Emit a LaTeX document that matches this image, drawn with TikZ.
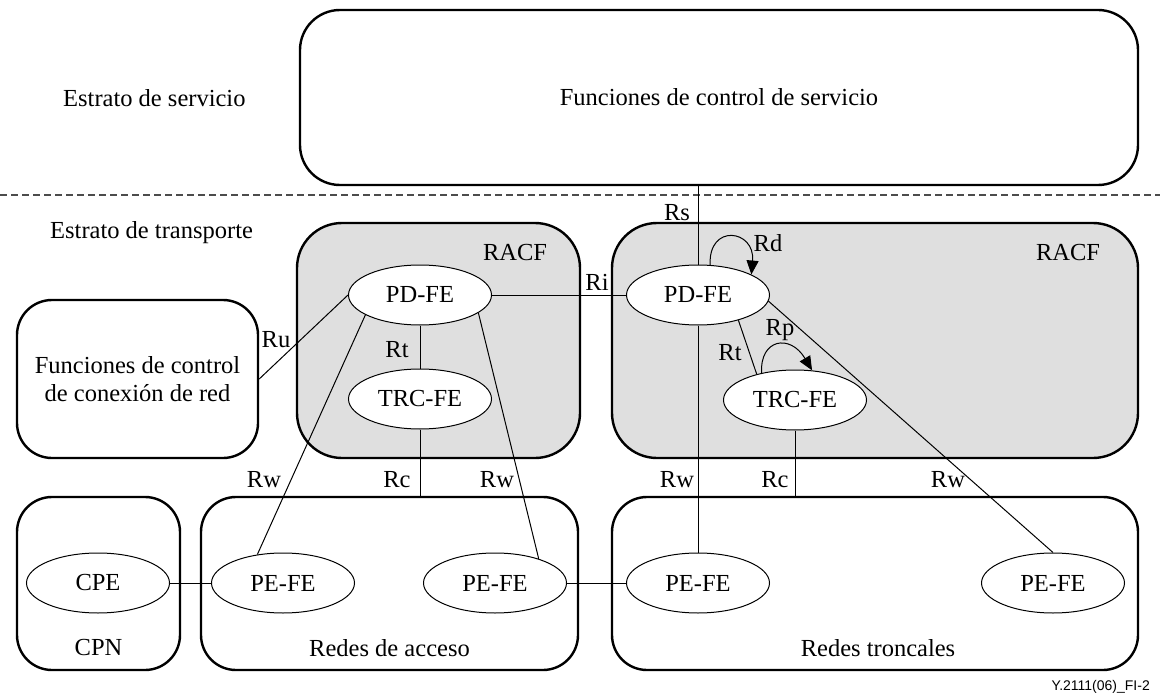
\documentclass[tikz,border=0pt]{standalone}
\usepackage{fontspec}
\setmainfont{Liberation Serif}
\newfontfamily\capfont{Liberation Sans}
\usetikzlibrary{shapes.geometric,arrows.meta,calc}
\begin{document}
\begin{tikzpicture}[x=1pt,y=-1pt,
  every node/.style={font=\fontsize{24.5}{28}\selectfont},
  bigbox/.style={draw,line width=2.4pt,rounded corners=40pt,rectangle,inner sep=0pt},
  racfbox/.style={bigbox,fill=gray!25},
  fe/.style={draw,ellipse,line width=1pt,fill=white,minimum width=143pt,minimum height=60pt,inner sep=0pt},
  lbl/.style={inner sep=0pt},
  conn/.style={line width=1pt},
  loopar/.style={line width=1pt,-{Triangle[length=14pt,width=12pt]}}
]
\useasboundingbox (0,0) rectangle (1160,698);
% strata
\draw[line width=1.4pt,dash pattern=on 7pt off 4pt,gray!60!black] (0,195) coordinate (dl) -- (1160,195) coordinate (dr);
\node[lbl,anchor=west] (es) at (63,98) {Estrato de servicio};
\node[lbl,anchor=west] (et) at (50,233) {Estrato de transporte};
% boxes
\node[bigbox,minimum width=838pt,minimum height=175pt] (svc) at (719,97.5) {Funciones de control de servicio};
\node[bigbox,minimum width=241pt,minimum height=158pt,rounded corners=35pt,align=center] (ncf) at (137.5,379) {Funciones de control\\de conexión de red};
\node[racfbox,minimum width=283pt,minimum height=235pt,rounded corners=45pt] (lracf) at (438.5,340.5) {};
\node[racfbox,minimum width=526pt,minimum height=235pt,rounded corners=45pt] (rracf) at (875,340.5) {};
\node[bigbox,minimum width=163pt,minimum height=173pt,rounded corners=35pt] (cpn) at (98.5,583.5) {};
\node[bigbox,minimum width=377pt,minimum height=173pt,rounded corners=35pt] (acc) at (389.5,583.5) {};
\node[bigbox,minimum width=526pt,minimum height=173pt,rounded corners=35pt] (trk) at (875,583.5) {};
\node[lbl] (lracft) at (515,253) {RACF};
\node[lbl] (rracft) at (1068,253) {RACF};
\node[lbl] (cpnt) at (98.5,648) {CPN};
\node[lbl] (acct) at (389.5,648) {Redes de acceso};
\node[lbl] (trkt) at (878,648) {Redes troncales};
% free ends
\coordinate (rsTop) at (698,185);
\coordinate (lrc) at (420,497);
\coordinate (rrc) at (795,497);
% ellipses
\node[fe] (lPD) at (420,295) {PD-FE};
\node[fe] (lTRC) at (420,399) {TRC-FE};
\node[fe] (rPD) at (698,295) {PD-FE};
\node[fe] (rTRC) at (795,400) {TRC-FE};
\node[fe] (cpe) at (98,583) {CPE};
\node[fe] (aPE1) at (283,583) {PE-FE};
\node[fe] (aPE2) at (495,583) {PE-FE};
\node[fe] (tPE1) at (698,583) {PE-FE};
\node[fe] (tPE2) at (1053,583) {PE-FE};
% connectors
\draw[conn] (rsTop) -- (rPD.north);
\draw[conn] (lPD.east) -- (rPD.west);
\draw[conn] (ncf.east) -- (lPD.west);
\draw[conn] (lPD.south) -- (lTRC.north);
\draw[conn] (lTRC.south) -- (lrc);
\draw[conn] (lPD.200) -- (aPE1.132);
\draw[conn] (lPD.343) -- (aPE2.29);
\draw[conn] (cpe.east) -- (aPE1.west);
\draw[conn] (aPE2.east) -- (tPE1.west);
\draw[conn] (rPD.south) -- (tPE1.north);
\draw[conn] (rPD.328) -- (rTRC.146);
\draw[conn] (rTRC.south) -- (rrc);
\draw[conn] (rPD.355) -- (tPE2.north);
\draw[loopar] (rPD.68) .. controls +(-2,-42) and +(4,-45) .. (rPD.21);
\draw[loopar] (rTRC.141) .. controls +(-2,-34) and +(-22,-37) .. (rTRC.60);
% interface labels
\node[lbl] (rs) at (677,213) {Rs};
\node[lbl] (ri) at (597,282) {Ri};
\node[lbl] (rd) at (768,243) {Rd};
\node[lbl] (rp) at (780,330) {Rp};
\node[lbl] (rt2) at (730,353) {Rt};
\node[lbl] (rt1) at (397,350) {Rt};
\node[lbl] (ru) at (276,340) {Ru};
\node[lbl] (rw1) at (264,480) {Rw};
\node[lbl] (rc1) at (397,480) {Rc};
\node[lbl] (rw2) at (497,480) {Rw};
\node[lbl] (rw3) at (677,480) {Rw};
\node[lbl] (rc2) at (775,480) {Rc};
\node[lbl] (rw4) at (948,480) {Rw};
\node[lbl,anchor=east,font=\capfont\fontsize{14}{16}\selectfont] (cap) at (1150,687) {Y.2111(06)\_FI-2};
\end{tikzpicture}
\end{document}
